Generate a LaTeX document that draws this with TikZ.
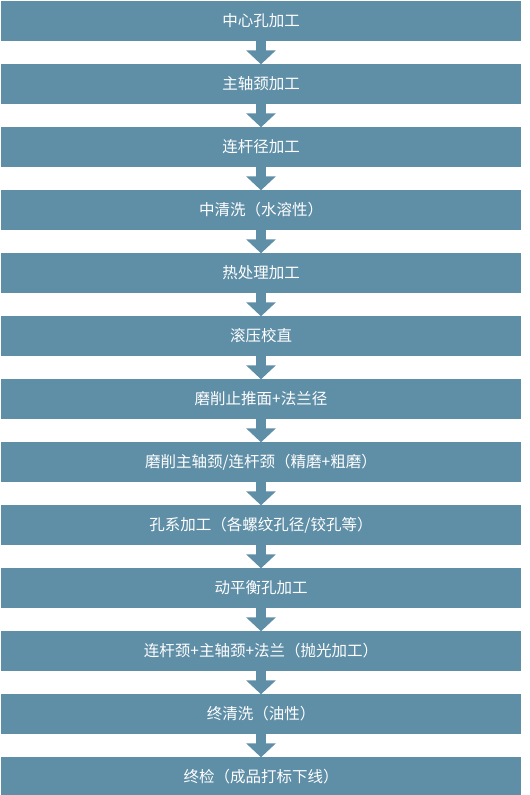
\documentclass[tikz,border=0pt]{standalone}
\usepackage{fontspec}
\newfontfamily\cjk{Noto Sans CJK SC}
\usetikzlibrary{positioning,arrows.meta}
\definecolor{StageBlue}{RGB}{95,142,167}
\tikzset{
  stagebox/.style={fill=StageBlue,minimum width=520pt,minimum height=40pt,
    inner sep=0pt,text=white,font=\cjk\fontsize{15.5}{18}\selectfont},
  blockflow/.style={-{Triangle[width=29pt,length=14pt]},line width=10pt,
    draw=StageBlue,shorten >=-0.5pt}
}
\begin{document}
\begin{tikzpicture}[x=1pt,y=1pt,node distance=22.6pt]
  \useasboundingbox (0,0) rectangle (530,-795);
  \node[stagebox] (s1) at (261,-21) {中心孔加工};
  \node[stagebox,below=of s1] (s2) {主轴颈加工};
  \node[stagebox,below=of s2] (s3) {连杆径加工};
  \node[stagebox,below=of s3] (s4) {中清洗（水溶性）};
  \node[stagebox,below=of s4] (s5) {热处理加工};
  \node[stagebox,below=of s5] (s6) {滚压校直};
  \node[stagebox,below=of s6] (s7) {磨削止推面+法兰径};
  \node[stagebox,below=of s7] (s8) {磨削主轴颈/连杆颈（精磨+粗磨）};
  \node[stagebox,below=of s8] (s9) {孔系加工（各螺纹孔径/铰孔等）};
  \node[stagebox,below=of s9] (s10) {动平衡孔加工};
  \node[stagebox,below=of s10] (s11) {连杆颈+主轴颈+法兰（抛光加工）};
  \node[stagebox,below=of s11] (s12) {终清洗（油性）};
  \node[stagebox,below=of s12] (s13) {终检（成品打标下线）};
  \draw[blockflow] (s1) -- (s2);
  \draw[blockflow] (s2) -- (s3);
  \draw[blockflow] (s3) -- (s4);
  \draw[blockflow] (s4) -- (s5);
  \draw[blockflow] (s5) -- (s6);
  \draw[blockflow] (s6) -- (s7);
  \draw[blockflow] (s7) -- (s8);
  \draw[blockflow] (s8) -- (s9);
  \draw[blockflow] (s9) -- (s10);
  \draw[blockflow] (s10) -- (s11);
  \draw[blockflow] (s11) -- (s12);
  \draw[blockflow] (s12) -- (s13);
\end{tikzpicture}
\end{document}
